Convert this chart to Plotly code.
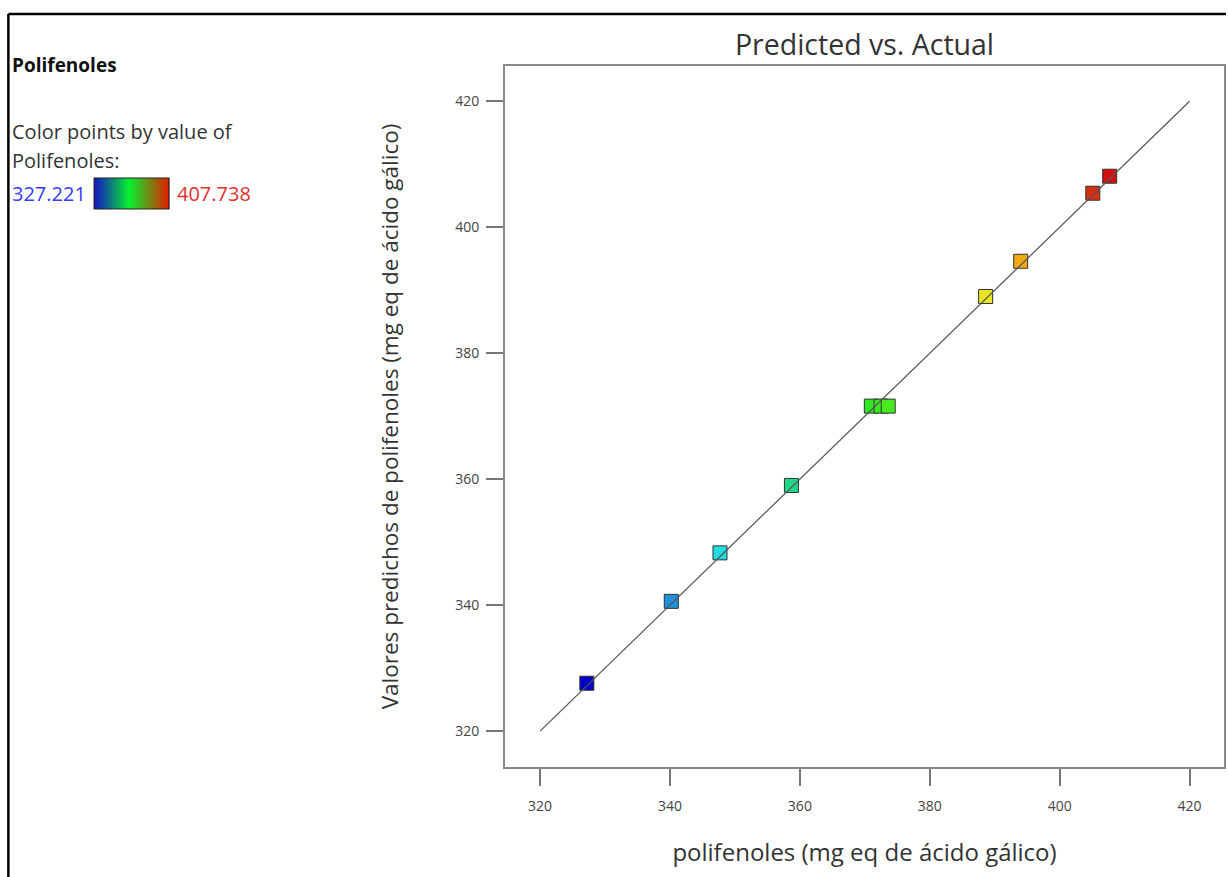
import plotly.graph_objects as go

# Data
actual = [327.2, 340.2, 347.7, 358.7, 371.0, 372.5, 373.6, 388.6, 394.0, 405.1, 407.7]
predicted = [327.6, 340.6, 348.3, 359.0, 371.6, 371.6, 371.6, 389.0, 394.6, 405.4, 408.1]
ref_line = [320, 420]
tick_vals = [320, 340, 360, 380, 400, 420]
cmin_val, cmax_val = 327.221, 407.738

W, H = 1228, 877
L, R, T, B = 505, 1226, 66, 767  # plot area in pixels


def px(x):
    return (x - L) / (R - L)


def py(y):
    return (B - y) / (B - T)


jet = [
    [0.0, "#0000c8"], [0.16, "#2090d8"], [0.26, "#20e0e0"], [0.40, "#20d880"],
    [0.55, "#30e820"], [0.76, "#e8e820"], [0.84, "#f0a010"], [1.0, "#d01010"],
]

fig = go.Figure()
fig.add_trace(go.Scatter(
    x=actual, y=predicted, mode="markers",
    marker=dict(symbol="square", size=14, color=actual, colorscale=jet,
                cmin=cmin_val, cmax=cmax_val,
                line=dict(color="#333333", width=1)),
    showlegend=False, hoverinfo="x+y",
))
fig.add_trace(go.Scatter(
    x=ref_line, y=ref_line, mode="lines",
    line=dict(color="#555555", width=1.2), showlegend=False, hoverinfo="skip",
))

axis_common = dict(
    showgrid=False, zeroline=False, showline=True, linecolor="#8a8a8a", linewidth=2,
    mirror=True, ticks="outside", ticklen=17, tickwidth=1.5, tickcolor="#777777",
    tickvals=tick_vals, tickfont=dict(family="Open Sans", size=14, color="#444444"),
)

fig.update_layout(
    width=W, height=H,
    margin=dict(l=L, r=W - R, t=T, b=H - B),
    paper_bgcolor="white", plot_bgcolor="white",
    title=dict(text="Predicted vs. Actual", xref="paper", x=0.5, xanchor="center",
               yref="container", y=1 - 45 / H, yanchor="middle",
               font=dict(family="Open Sans", size=28.5, color="#333333")),
    xaxis=dict(range=[314.6, 425.3], ticklabelstandoff=8,
               title=dict(text="polifenoles (mg eq de ácido gálico)", standoff=30,
                          font=dict(family="Open Sans", size=24, color="#333333")),
               **axis_common),
    yaxis=dict(range=[314.3, 425.6], ticklabelstandoff=4,
               title=dict(text="Valores predichos de polifenoles (mg eq de ácido gálico)", standoff=50,
                          font=dict(family="Open Sans", size=22.5, color="#333333")),
               **axis_common),
)

# Outer frame (top and left)
fig.add_shape(type="line", xref="paper", yref="paper", x0=px(7), x1=px(1228), y0=py(14), y1=py(14),
              line=dict(color="black", width=2.5))
fig.add_shape(type="line", xref="paper", yref="paper", x0=px(7), x1=px(7), y0=py(14), y1=py(877),
              line=dict(color="black", width=2.5))

# Legend panel texts
def ann(text, x, y, size, color="#333333", bold=False):
    fig.add_annotation(text=f"<b>{text}</b>" if bold else text, xref="paper", yref="paper",
                       x=px(x), y=py(y), xanchor="left", yanchor="middle", showarrow=False,
                       font=dict(family="Open Sans", size=size, color=color))

ann("Polifenoles", 9, 65, 19, "#111111", bold=True)
ann("Color points by value of", 9, 131, 20)
ann("Polifenoles:", 9, 161, 20)
ann(f"{cmin_val:.3f}", 9, 193, 20, "#3a3aff")
ann(f"{cmax_val:.3f}", 174, 193, 20, "#e03030")

# Gradient swatch (blue -> green -> red)
def lerp(c1, c2, t):
    return tuple(int(round(a + (b - a) * t)) for a, b in zip(c1, c2))

x0s, x1s, y0s, y1s = 93, 168, 178, 209
n = 75
stops = [(0.0, (0, 0, 190)), (0.47, (0, 240, 40)), (1.0, (230, 30, 0))]
for i in range(n):
    t = (i + 0.5) / n
    if t <= stops[1][0]:
        c = lerp(stops[0][1], stops[1][1], t / stops[1][0])
    else:
        c = lerp(stops[1][1], stops[2][1], (t - stops[1][0]) / (1 - stops[1][0]))
    xa = x0s + (x1s - x0s) * i / n
    xb = x0s + (x1s - x0s) * (i + 1) / n
    fig.add_shape(type="rect", xref="paper", yref="paper", x0=px(xa), x1=px(xb + 0.3),
                  y0=py(y1s), y1=py(y0s), line=dict(width=0), fillcolor=f"rgb{c}", layer="above")
fig.add_shape(type="rect", xref="paper", yref="paper", x0=px(x0s), x1=px(x1s),
              y0=py(y1s), y1=py(y0s), line=dict(color="#222222", width=1.2))

fig.write_html("out.html")
